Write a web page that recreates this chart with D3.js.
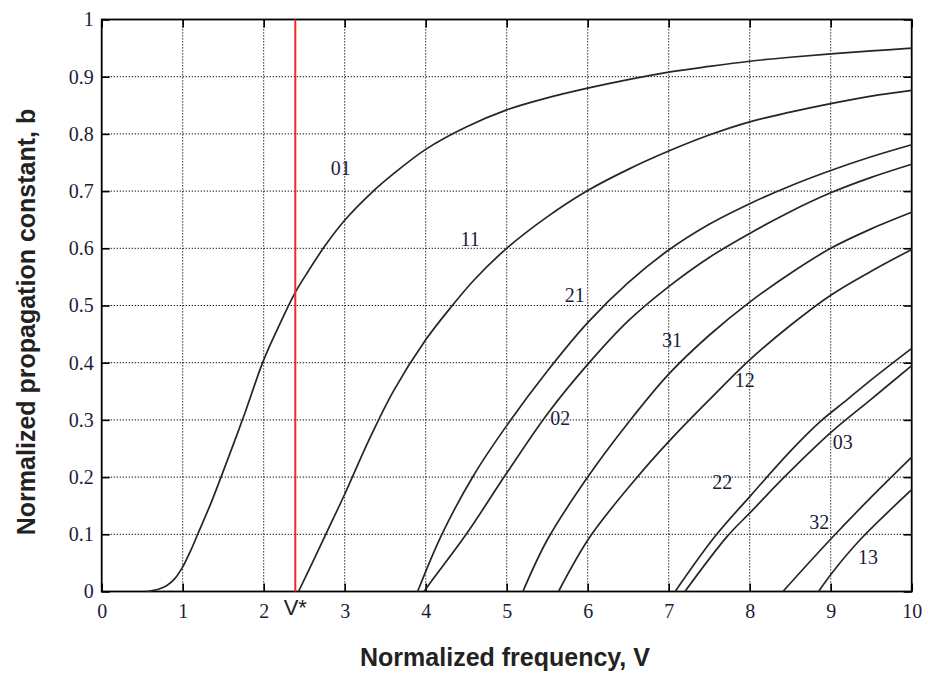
<!DOCTYPE html>
<html>
<head>
<meta charset="utf-8">
<script src="https://cdn.jsdelivr.net/npm/d3@7"></script>
<style>
  html, body { margin: 0; padding: 0; background: #fff; }
  svg { display: block; }
</style>
</head>
<body>
<svg id="chart" width="928" height="676"></svg>
<script>
// ---- Data ----
const xTicks = [0, 1, 2, 3, 4, 5, 6, 7, 8, 9, 10];
const yTicks = [0, 0.1, 0.2, 0.3, 0.4, 0.5, 0.6, 0.7, 0.8, 0.9, 1];
const yTickLabels = ["0", "0.1", "0.2", "0.3", "0.4", "0.5", "0.6", "0.7", "0.8", "0.9", "1"];
const vStar = 2.39;
const vStarLabel = "V*";
const xTitle = "Normalized frequency, V";
const yTitle = "Normalized propagation constant, b";

const modeNames = ["01", "11", "21", "02", "31", "12", "22", "03", "32", "13"];
const mode01 = [[0.55,0],[0.7,0.004],[0.8,0.01],[0.9,0.022],[1.0,0.043],[1.1,0.072],[1.2,0.105],[1.35,0.155],[1.5,0.21],[1.75,0.305],[2.0,0.405],[2.2,0.468],[2.39,0.523],[2.55,0.56],[2.75,0.603],[3.0,0.649],[3.33,0.697],[3.6,0.73],[4.0,0.773],[4.5,0.812],[5.0,0.842],[5.5,0.863],[6.0,0.88],[6.5,0.895],[7.0,0.908],[7.5,0.918],[8.0,0.927],[8.5,0.934],[9.0,0.94],[9.5,0.945],[10,0.95]];
const mode11 = [[2.43,0],[2.6,0.05],[2.8,0.11],[3.0,0.17],[3.3,0.265],[3.6,0.35],[4.0,0.44],[4.3,0.495],[4.6,0.545],[5.0,0.6],[5.5,0.655],[6.0,0.701],[6.5,0.738],[7.0,0.77],[7.5,0.798],[8.0,0.821],[8.5,0.838],[9.0,0.853],[9.5,0.866],[10,0.876]];
const mode21 = [[3.9,0],[4.2,0.1],[4.6,0.205],[5.0,0.29],[5.5,0.385],[6.0,0.47],[6.5,0.54],[7.0,0.597],[7.5,0.642],[8.0,0.678],[8.5,0.709],[9.0,0.736],[9.5,0.76],[10,0.781]];
const mode02 = [[3.98,0],[4.05,0.014],[4.5,0.1],[5.0,0.207],[5.5,0.31],[6.0,0.397],[6.5,0.473],[7.0,0.533],[7.5,0.584],[8.0,0.626],[8.5,0.664],[9.0,0.697],[9.5,0.724],[10,0.747]];
const mode31 = [[5.2,0],[5.5,0.09],[6.0,0.2],[6.5,0.295],[7.0,0.38],[7.5,0.448],[8.0,0.506],[8.5,0.556],[9.0,0.6],[9.5,0.634],[10,0.663]];
const mode12 = [[5.64,0],[6.03,0.096],[6.6,0.198],[7.0,0.262],[7.5,0.335],[8.0,0.405],[8.5,0.465],[9.0,0.518],[9.5,0.56],[10,0.598]];
const mode22 = [[7.08,0],[7.57,0.096],[8.02,0.169],[8.5,0.245],[8.87,0.297],[9.2,0.335],[9.5,0.37],[10,0.425]];
const mode03 = [[7.2,0],[7.72,0.096],[8.02,0.14],[8.42,0.199],[9.01,0.279],[9.49,0.335],[10,0.395]];
const mode32 = [[8.41,0],[8.99,0.09],[9.5,0.165],[10,0.235]];
const mode13 = [[8.85,0],[9.03,0.035],[9.36,0.09],[10,0.178]];
const modeCurves = [mode01, mode11, mode21, mode02, mode31, mode12, mode22, mode03, mode32, mode13];
// label anchor positions in data coordinates (V, b)
const labelV = [2.95, 4.55, 5.84, 5.66, 7.04, 7.94, 7.66, 9.15, 8.86, 9.46];
const labelB = [0.74, 0.617, 0.518, 0.303, 0.439, 0.369, 0.191, 0.261, 0.121, 0.06];

// ---- Layout ----
const svg = d3.select("#chart");
const L = 101.7, R = 911.7, T = 19.5, B = 591.5;
const x = d3.scaleLinear().domain([0, 10]).range([L, R]);
const y = d3.scaleLinear().domain([0, 1]).range([B, T]);
const tickColor = "#1c1c3a";

// grid
const grid = svg.append("g").attr("stroke", "#111").attr("stroke-width", 1)
  .attr("stroke-dasharray", "1.3,1.7");
xTicks.filter(v => v > 0 && v < 10).forEach(v => {
  grid.append("line").attr("x1", x(v)).attr("x2", x(v)).attr("y1", y(0)).attr("y2", y(1));
});
yTicks.filter(v => v > 0 && v < 1).forEach(v => {
  grid.append("line").attr("x1", x(0)).attr("x2", x(10)).attr("y1", y(v)).attr("y2", y(v));
});

// axes (ticks inward)
const xAxisB = d3.axisBottom(x).tickValues(xTicks).tickSize(-8).tickPadding(12).tickFormat(d3.format("d"));
const xAxisT = d3.axisTop(x).tickValues(xTicks).tickSize(-8).tickFormat("");
const yAxisL = d3.axisLeft(y).tickValues(yTicks).tickSize(-8).tickPadding(8).tickFormat((d, i) => yTickLabels[i]);
const yAxisR = d3.axisRight(y).tickValues(yTicks).tickSize(-8).tickFormat("");

function styleAxis(g) {
  g.select(".domain").remove();
  g.selectAll(".tick line").attr("stroke", "#000").attr("stroke-width", 1.6);
  g.selectAll(".tick text").attr("fill", tickColor)
    .style("font-family", "'Liberation Serif', 'Times New Roman', serif").style("font-size", "20px");
}
svg.append("g").attr("transform", `translate(0,${B})`).call(xAxisB).call(styleAxis);
svg.append("g").attr("transform", `translate(0,${T})`).call(xAxisT).call(styleAxis);
svg.append("g").attr("transform", `translate(${L},0)`).call(yAxisL).call(styleAxis);
svg.append("g").attr("transform", `translate(${R},0)`).call(yAxisR).call(styleAxis);

// frame
svg.append("rect").attr("x", L).attr("y", T).attr("width", R - L).attr("height", B - T)
  .attr("fill", "none").attr("stroke", "#000").attr("stroke-width", 1.8);

// curves
const line = d3.line().x(d => x(d[0])).y(d => y(d[1])).curve(d3.curveCatmullRom.alpha(0.5));
svg.append("g").selectAll("path").data(modeCurves).join("path")
  .attr("d", line).attr("fill", "none").attr("stroke", "#262626").attr("stroke-width", 1.7);

// red V* line
svg.append("line").attr("x1", x(vStar)).attr("x2", x(vStar)).attr("y1", y(0)).attr("y2", y(1))
  .attr("stroke", "#ee2a2a").attr("stroke-width", 2);
svg.append("text").attr("x", x(vStar)).attr("y", B + 23).attr("text-anchor", "middle")
  .style("font-family", "'Liberation Sans', Arial, sans-serif").style("font-size", "22px")
  .attr("fill", "#222").text(vStarLabel);

// mode labels
svg.append("g").selectAll("text").data(modeNames).join("text")
  .attr("x", (d, i) => x(labelV[i])).attr("y", (d, i) => y(labelB[i]))
  .attr("dy", "0.35em").attr("text-anchor", "middle")
  .style("font-family", "'Liberation Serif', 'Times New Roman', serif").style("font-size", "20px")
  .attr("fill", tickColor).text(d => d);

// titles
svg.append("text").attr("x", 505).attr("y", 666).attr("text-anchor", "middle")
  .style("font-family", "'Liberation Sans', Arial, sans-serif").style("font-weight", "bold").style("font-size", "25px")
  .attr("fill", "#222").text(xTitle);
svg.append("text").attr("transform", "translate(35,322) rotate(-90)").attr("text-anchor", "middle")
  .style("font-family", "'Liberation Sans', Arial, sans-serif").style("font-weight", "bold").style("font-size", "25px")
  .attr("fill", "#222").text(yTitle);
</script>
</body>
</html>
